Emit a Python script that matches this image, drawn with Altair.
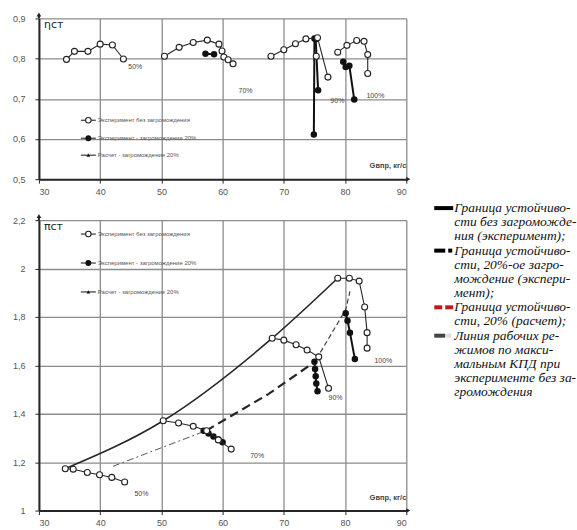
import altair as alt
import pandas as pd

# ---------------- efficiency ηст (upper panel) ----------------
# open circles: experiment without blockage, one series per relative speed
eta50_x = [34.5, 35.8, 38.0, 40.0, 42.0, 43.8]
eta50_y = [0.798, 0.818, 0.818, 0.836, 0.834, 0.799]
eta70_x = [50.5, 52.9, 55.2, 57.5, 59.4, 59.9, 60.2, 60.9, 61.7]
eta70_y = [0.806, 0.828, 0.840, 0.846, 0.836, 0.819, 0.804, 0.797, 0.787]
eta90_x = [67.9, 70.0, 71.9, 73.6, 75.5, 77.2]
eta90_y = [0.806, 0.822, 0.837, 0.849, 0.852, 0.754]
eta90s_x = [75.3]
eta90s_y = [0.806]
eta100_x = [78.8, 80.3, 81.9, 83.1, 83.7, 83.7]
eta100_y = [0.816, 0.833, 0.845, 0.843, 0.810, 0.763]

# filled circles: experiment with 20 % blockage
eta70b_x = [57.2, 58.6]
eta70b_y = [0.812, 0.811]
eta90b_x = [75.2, 75.6]
eta90b_y = [0.848, 0.721]
eta90c_x = [75.0, 74.9]
eta90c_y = [0.850, 0.611]
eta100b_x = [79.7, 80.1, 80.7, 81.5]
eta100b_y = [0.792, 0.779, 0.782, 0.698]

eta_lab_text = ["50%", "70%", "90%", "100%"]
eta_lab_x = [44.6, 62.6, 77.6, 83.5]
eta_lab_y = [0.778, 0.720, 0.694, 0.706]

# ---------------- pressure ratio πст (lower panel) ----------------
pi50_x = [34.3, 35.6, 37.9, 39.9, 41.9, 44.0]
pi50_y = [1.173, 1.171, 1.157, 1.148, 1.137, 1.118]
pi70_x = [50.3, 52.8, 55.2, 57.4, 59.3, 61.4]
pi70_y = [1.371, 1.362, 1.348, 1.330, 1.292, 1.254]
pi90_x = [68.1, 70.0, 72.0, 73.8, 75.7, 77.3]
pi90_y = [1.712, 1.704, 1.685, 1.663, 1.635, 1.505]
pi100_x = [78.8, 80.7, 82.3, 83.2, 83.6, 83.6]
pi100_y = [1.960, 1.960, 1.948, 1.841, 1.735, 1.671]

pi70b_x = [56.9, 57.7, 58.5, 59.3, 60.0]
pi70b_y = [1.330, 1.318, 1.306, 1.294, 1.282]
pi90b_x = [75.0, 75.1, 75.2, 75.3, 75.5]
pi90b_y = [1.615, 1.585, 1.555, 1.525, 1.493]
pi100b_x = [80.1, 80.4, 80.8, 81.6]
pi100b_y = [1.815, 1.784, 1.735, 1.626]

# surge boundary without blockage (experiment)
surge_x = [34.3, 50.3, 68.1, 78.8]
surge_y = [1.173, 1.371, 1.712, 1.960]
# surge boundary with 20 % blockage (experiment)
surge20_x = [57.3, 67.4, 74.8]
surge20_y = [1.330, 1.480, 1.610]
# calculated boundary / max-efficiency operating line
calc_lo_x = [42.1, 57.3]
calc_lo_y = [1.183, 1.330]
calc_hi_x = [75.3, 80.1, 80.8]
calc_hi_y = [1.625, 1.830, 1.905]

pi_lab_text = ["50%", "70%", "90%", "100%"]
pi_lab_x = [45.6, 64.5, 77.3, 84.8]
pi_lab_y = [1.070, 1.227, 1.467, 1.618]

legend_labels = [
    "Эксперимент без загромождения",
    "Эксперимент - загромождение 20%",
    "Расчет - загромождение 20%",
]

note_lines = [
    "Граница устойчиво-",
    "сти без загроможде-",
    "ния (эксперимент);",
    "Граница устойчиво-",
    "сти, 20%-ое загро-",
    "мождение (экспери-",
    "мент);",
    "Граница устойчиво-",
    "сти, 20% (расчет);",
    "Линия рабочих ре-",
    "жимов по макси-",
    "мальным КПД при",
    "эксперименте без за-",
    "громождения",
]

x_ticks = [30, 40, 50, 60, 70, 80, 90]
eta_ticks = [0.5, 0.6, 0.7, 0.8, 0.9]
pi_ticks = [1.0, 1.2, 1.4, 1.6, 1.8, 2.0, 2.2]

W = 368
H_TOP = 161
H_BOT = 291

INK = "#262626"
GRID = "#8c8c8c"
LABEL_FONT = "Liberation Sans"


def frame(pairs):
    rows = []
    for name, xs, ys in pairs:
        for i, (a, b) in enumerate(zip(xs, ys)):
            rows.append({"x": a, "y": b, "s": name, "i": i})
    return pd.DataFrame(rows)


one = pd.DataFrame({"k": [0]})

num_expr = ("datum.value == floor(datum.value) ? format(datum.value, 'd') : "
            "replace(format(datum.value, '.1f'), '.', ',')")


def enc_x():
    return alt.X("x:Q", scale=alt.Scale(domain=[30, 90], nice=False, zero=False),
                 axis=alt.Axis(values=x_ticks, title=None, grid=True,
                               labelPadding=4, tickSize=4), title=None)


def enc_y(dom, ticks):
    return alt.Y("y:Q", scale=alt.Scale(domain=dom, nice=False, zero=False),
                 axis=alt.Axis(values=ticks, title=None, grid=True, labelExpr=num_expr,
                               labelPadding=10, tickSize=4), title=None)


def panel(open_pairs, filled_pairs, dom, ticks, labels, h, legend_y, y_title, extra=None):
    X = enc_x()
    Y = enc_y(dom, ticks)
    op = frame(open_pairs)
    fl = frame(filled_pairs)
    lb = pd.DataFrame({"x": labels[1], "y": labels[2], "t": labels[0]})
    layers = []
    if extra is not None:
        layers += extra(X, Y)
    layers += [
        alt.Chart(fl).mark_line(color="#111", strokeWidth=2).encode(
            x=X, y=Y, detail="s:N", order="i:Q"),
        alt.Chart(fl).mark_point(filled=True, color="#111", size=42, opacity=1).encode(x=X, y=Y),
        alt.Chart(op).mark_line(color=INK, strokeWidth=1.1).encode(
            x=X, y=Y, detail="s:N", order="i:Q"),
        alt.Chart(op).mark_point(shape="circle", filled=True, fill="white", stroke="#222",
                                 strokeWidth=1.1, size=36, opacity=1).encode(x=X, y=Y),
        alt.Chart(lb).mark_text(font=LABEL_FONT, fontSize=7, color="#444",
                                align="left", baseline="middle").encode(x=X, y=Y, text="t:N"),
    ]
    # in-plot legend
    for k, lab in enumerate(legend_labels):
        yy = legend_y[k]
        layers.append(alt.Chart(one).mark_rule(color=INK, strokeWidth=1.1).encode(
            x=alt.value(42), x2=alt.value(57), y=alt.value(yy)))
        if k == 0:
            mk = alt.Chart(one).mark_point(shape="circle", filled=True, fill="white",
                                           stroke="#222", strokeWidth=1.1, size=30, opacity=1)
        elif k == 1:
            mk = alt.Chart(one).mark_point(shape="circle", filled=True, color="#111", size=34,
                                           opacity=1)
        else:
            mk = alt.Chart(one).mark_point(shape="triangle-up", filled=True, color="#111",
                                           size=14, opacity=1)
        layers.append(mk.encode(x=alt.value(49.5), y=alt.value(yy)))
        layers.append(alt.Chart(one).mark_text(
            text=lab, font=LABEL_FONT, fontSize=6, color="#555", align="left",
            baseline="middle").encode(x=alt.value(59), y=alt.value(yy)))
    # axis titles and arrow heads
    layers += [
        alt.Chart(one).mark_text(text=y_title, font="DejaVu Sans", fontSize=11, color=INK,
                                 align="left", baseline="middle").encode(
            x=alt.value(5), y=alt.value(7)),
        alt.Chart(one).mark_text(text="Gвпр, кг/с", font=LABEL_FONT, fontSize=7.5,
                                 fontWeight="bold", color="#444", align="right",
                                 baseline="middle").encode(
            x=alt.value(W), y=alt.value(h - 13)),
        alt.Chart(one).mark_rule(color=INK, strokeWidth=2).encode(
            x=alt.value(0), y=alt.value(-4), y2=alt.value(0)),
        alt.Chart(one).mark_point(shape="triangle-up", filled=True, color=INK, size=22,
                                  opacity=1).encode(x=alt.value(0), y=alt.value(-4)),
        alt.Chart(one).mark_point(shape="triangle-right", filled=True, color=INK, size=22,
                                  opacity=1).encode(x=alt.value(W + 2), y=alt.value(h)),
    ]
    return alt.layer(*layers).properties(width=W, height=h)


top = panel(
    [("50", eta50_x, eta50_y), ("70", eta70_x, eta70_y), ("90", eta90_x, eta90_y),
     ("90s", eta90s_x, eta90s_y), ("100", eta100_x, eta100_y)],
    [("70b", eta70b_x, eta70b_y), ("90b", eta90b_x, eta90b_y), ("90c", eta90c_x, eta90c_y),
     ("100b", eta100b_x, eta100b_y)],
    [0.5, 0.9], eta_ticks, (eta_lab_text, eta_lab_x, eta_lab_y), H_TOP,
    [102, 120, 137], "ηст",
)


def boundary_lines(X, Y):
    sl = frame([("s", surge_x, surge_y)])
    s20 = frame([("s20", surge20_x, surge20_y)])
    lo = frame([("lo", calc_lo_x, calc_lo_y)])
    hi = frame([("hi", calc_hi_x, calc_hi_y)])
    return [
        alt.Chart(sl).mark_line(color=INK, strokeWidth=1.6, interpolate="monotone").encode(
            x=X, y=Y, order="i:Q"),
        alt.Chart(s20).mark_line(color=INK, strokeWidth=2.2, strokeDash=[9, 5]).encode(
            x=X, y=Y, order="i:Q"),
        alt.Chart(lo).mark_line(color="#555", strokeWidth=1, strokeDash=[7, 3, 2, 3]).encode(
            x=X, y=Y, order="i:Q"),
        alt.Chart(hi).mark_line(color="#333", strokeWidth=1.1, strokeDash=[5, 3]).encode(
            x=X, y=Y, order="i:Q"),
    ]


bottom_core = panel(
    [("50", pi50_x, pi50_y), ("70", pi70_x, pi70_y), ("90", pi90_x, pi90_y),
     ("100", pi100_x, pi100_y)],
    [("70b", pi70b_x, pi70b_y), ("90b", pi90b_x, pi90b_y), ("100b", pi100b_x, pi100b_y)],
    [1.0, 2.2], pi_ticks, (pi_lab_text, pi_lab_x, pi_lab_y), H_BOT,
    [14, 43, 72], "πст", extra=boundary_lines,
)

# side notes explaining the boundary line styles
NOTE_X = 416
NOTE_Y0 = -12
NOTE_DY = 14.2
note_layers = []
for j, line in enumerate(note_lines):
    note_layers.append(alt.Chart(one).mark_text(
        text=line, font="Liberation Serif", fontStyle="italic", fontSize=13.5, color="#111",
        align="left", baseline="middle").encode(
        x=alt.value(NOTE_X), y=alt.value(NOTE_Y0 + j * NOTE_DY)))


def key(x0, x1, row, color):
    return alt.Chart(one).mark_rule(color=color, strokeWidth=4).encode(
        x=alt.value(x0), x2=alt.value(x1), y=alt.value(NOTE_Y0 + row * NOTE_DY))


note_layers += [
    key(396, 415, 0, "#000"),
    key(396, 407, 3, "#000"), key(410, 414, 3, "#000"),
    key(396, 404, 7, "#c8141c"), key(407, 415, 7, "#c8141c"),
    key(396, 407, 9, "#444"), key(408, 413, 9, "#dcdcdc"),
]

bottom = alt.layer(bottom_core, *note_layers)

chart = alt.vconcat(top, bottom, spacing=41, bounds="flush").properties(
    padding={"left": 12, "top": 11, "right": 0, "bottom": 0}
).configure_view(stroke=None).configure_axis(
    gridColor=GRID, gridWidth=1.3, domainColor=INK, domainWidth=2,
    tickColor=INK, labelFont=LABEL_FONT, labelFontSize=9, labelColor="#555",
)

chart.save("out.html", embed_options={"renderer": "svg", "actions": False})
